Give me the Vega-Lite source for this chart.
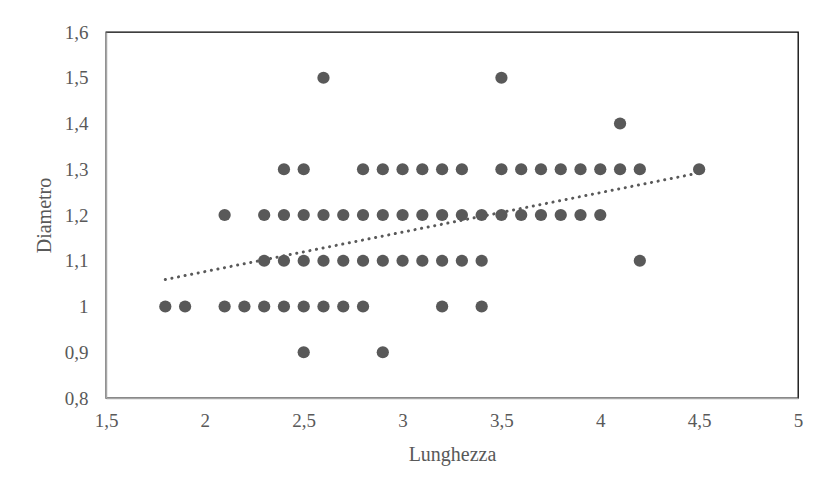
{
  "$schema": "https://vega.github.io/schema/vega-lite/v6.json",
  "autosize": "none",
  "width": 692,
  "height": 366,
  "padding": {"left": 106, "top": 32, "right": 17, "bottom": 87},
  "background": "white",
  "config": {
    "locale": {"number": {"decimal": ",", "thousands": ".", "grouping": [3], "currency": ["€", ""]}},
    "view": {"stroke": "#000000", "strokeWidth": 1.3},
    "font": "Liberation Serif",
    "axis": {
      "labelFont": "Liberation Serif",
      "titleFont": "Liberation Serif",
      "labelFontSize": 19,
      "titleFontSize": 20,
      "labelColor": "#595959",
      "titleColor": "#595959",
      "titleFontWeight": "normal",
      "grid": false,
      "ticks": false,
      "domainColor": "#a6a6a6",
      "domainWidth": 1.5
    }
  },
  "datasets": {
    "points": [
      {"Lunghezza": 2.6, "Diametro": 1.5},
      {"Lunghezza": 3.5, "Diametro": 1.5},
      {"Lunghezza": 4.1, "Diametro": 1.4},
      {"Lunghezza": 2.4, "Diametro": 1.3},
      {"Lunghezza": 2.5, "Diametro": 1.3},
      {"Lunghezza": 2.8, "Diametro": 1.3},
      {"Lunghezza": 2.9, "Diametro": 1.3},
      {"Lunghezza": 3.0, "Diametro": 1.3},
      {"Lunghezza": 3.1, "Diametro": 1.3},
      {"Lunghezza": 3.2, "Diametro": 1.3},
      {"Lunghezza": 3.3, "Diametro": 1.3},
      {"Lunghezza": 3.5, "Diametro": 1.3},
      {"Lunghezza": 3.6, "Diametro": 1.3},
      {"Lunghezza": 3.7, "Diametro": 1.3},
      {"Lunghezza": 3.8, "Diametro": 1.3},
      {"Lunghezza": 3.9, "Diametro": 1.3},
      {"Lunghezza": 4.0, "Diametro": 1.3},
      {"Lunghezza": 4.1, "Diametro": 1.3},
      {"Lunghezza": 4.2, "Diametro": 1.3},
      {"Lunghezza": 4.5, "Diametro": 1.3},
      {"Lunghezza": 2.1, "Diametro": 1.2},
      {"Lunghezza": 2.3, "Diametro": 1.2},
      {"Lunghezza": 2.4, "Diametro": 1.2},
      {"Lunghezza": 2.5, "Diametro": 1.2},
      {"Lunghezza": 2.6, "Diametro": 1.2},
      {"Lunghezza": 2.7, "Diametro": 1.2},
      {"Lunghezza": 2.8, "Diametro": 1.2},
      {"Lunghezza": 2.9, "Diametro": 1.2},
      {"Lunghezza": 3.0, "Diametro": 1.2},
      {"Lunghezza": 3.1, "Diametro": 1.2},
      {"Lunghezza": 3.2, "Diametro": 1.2},
      {"Lunghezza": 3.3, "Diametro": 1.2},
      {"Lunghezza": 3.4, "Diametro": 1.2},
      {"Lunghezza": 3.5, "Diametro": 1.2},
      {"Lunghezza": 3.6, "Diametro": 1.2},
      {"Lunghezza": 3.7, "Diametro": 1.2},
      {"Lunghezza": 3.8, "Diametro": 1.2},
      {"Lunghezza": 3.9, "Diametro": 1.2},
      {"Lunghezza": 4.0, "Diametro": 1.2},
      {"Lunghezza": 2.3, "Diametro": 1.1},
      {"Lunghezza": 2.4, "Diametro": 1.1},
      {"Lunghezza": 2.5, "Diametro": 1.1},
      {"Lunghezza": 2.6, "Diametro": 1.1},
      {"Lunghezza": 2.7, "Diametro": 1.1},
      {"Lunghezza": 2.8, "Diametro": 1.1},
      {"Lunghezza": 2.9, "Diametro": 1.1},
      {"Lunghezza": 3.0, "Diametro": 1.1},
      {"Lunghezza": 3.1, "Diametro": 1.1},
      {"Lunghezza": 3.2, "Diametro": 1.1},
      {"Lunghezza": 3.3, "Diametro": 1.1},
      {"Lunghezza": 3.4, "Diametro": 1.1},
      {"Lunghezza": 4.2, "Diametro": 1.1},
      {"Lunghezza": 1.8, "Diametro": 1.0},
      {"Lunghezza": 1.9, "Diametro": 1.0},
      {"Lunghezza": 2.1, "Diametro": 1.0},
      {"Lunghezza": 2.2, "Diametro": 1.0},
      {"Lunghezza": 2.3, "Diametro": 1.0},
      {"Lunghezza": 2.4, "Diametro": 1.0},
      {"Lunghezza": 2.5, "Diametro": 1.0},
      {"Lunghezza": 2.6, "Diametro": 1.0},
      {"Lunghezza": 2.7, "Diametro": 1.0},
      {"Lunghezza": 2.8, "Diametro": 1.0},
      {"Lunghezza": 3.2, "Diametro": 1.0},
      {"Lunghezza": 3.4, "Diametro": 1.0},
      {"Lunghezza": 2.5, "Diametro": 0.9},
      {"Lunghezza": 2.9, "Diametro": 0.9}
    ],
    "trend": [
      {"Lunghezza": 1.8, "Diametro": 1.059},
      {"Lunghezza": 4.5, "Diametro": 1.292}
    ]
  },
  "layer": [
    {
      "data": {"name": "trend"},
      "mark": {"type": "line", "color": "#595959", "strokeWidth": 3, "strokeCap": "round", "strokeDash": [0.1, 6.6]},
      "encoding": {
        "x": {"field": "Lunghezza", "type": "quantitative"},
        "y": {"field": "Diametro", "type": "quantitative"}
      }
    },
    {
      "data": {"name": "points"},
      "mark": {"type": "circle", "size": 150, "color": "#595959", "opacity": 1},
      "encoding": {
        "x": {
          "field": "Lunghezza", "type": "quantitative",
          "scale": {"domain": [1.5, 5], "nice": false, "zero": false},
          "axis": {"values": [1.5, 2, 2.5, 3, 3.5, 4, 4.5, 5], "format": ".1~f", "labelPadding": 13, "titlePadding": 14, "title": "Lunghezza", "labelFlush": false}
        },
        "y": {
          "field": "Diametro", "type": "quantitative",
          "scale": {"domain": [0.8, 1.6], "nice": false, "zero": false},
          "axis": {"values": [0.8, 0.9, 1.0, 1.1, 1.2, 1.3, 1.4, 1.5, 1.6], "format": ".1~f", "labelPadding": 18, "titlePadding": 10, "title": "Diametro", "labelFlush": false}
        }
      }
    }
  ]
}
